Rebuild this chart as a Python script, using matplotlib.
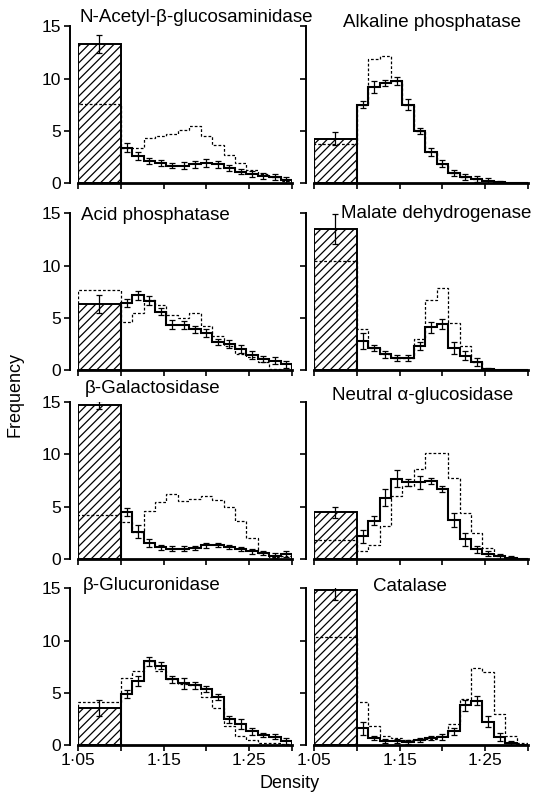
import numpy as np
import matplotlib
matplotlib.use("Agg")
import matplotlib.pyplot as plt

plt.rcParams["font.family"] = ["Liberation Sans", "DejaVu Sans"]
plt.rcParams["hatch.linewidth"] = 0.9

# --- Data ------------------------------------------------------------------
# 15 density fractions between 1.10 and 1.30, soluble fraction in 1.05-1.10
bin_edges = np.linspace(1.10, 1.30, 16)

titles = [
    "N-Acetyl-β-glucosaminidase", "Alkaline phosphatase",
    "Acid phosphatase", "Malate dehydrogenase",
    "β-Galactosidase", "Neutral α-glucosidase",
    "β-Glucuronidase", "Catalase",
]

# soluble (hatched) bar: value, error, control (dashed)
soluble = [13.3, 4.25, 6.3, 13.5, 14.7, 4.45, 3.55, 14.85]
soluble_err = [0.85, 0.65, 0.85, 1.4, 0.4, 0.55, 0.8, 0.95]
soluble_ctrl = [7.6, 3.7, 7.65, 10.4, 4.2, 1.75, 4.1, 10.3]

nag = [3.4, 2.6, 2.1, 1.9, 1.65, 1.65, 1.8, 1.9, 1.8, 1.45, 1.1, 0.9, 0.7, 0.55, 0.3]
nag_err = [0.4, 0.35, 0.3, 0.3, 0.25, 0.35, 0.35, 0.4, 0.35, 0.3, 0.2, 0.3, 0.3, 0.3, 0.3]
nag_ctrl = [3.4, 3.35, 4.3, 4.5, 4.7, 5.1, 5.5, 4.5, 3.6, 2.7, 1.9, 1.25, 0.85, 0.6, 0.2]

alp = [7.5, 9.2, 9.6, 9.75, 7.5, 5.0, 3.0, 1.85, 0.95, 0.57, 0.37, 0.22, 0.12, 0, 0]
alp_err = [0.35, 0.6, 0.3, 0.35, 0.5, 0.3, 0.4, 0.35, 0.3, 0.3, 0.3, 0.3, 0.1, 0, 0]
alp_ctrl = [7.5, 11.9, 12.2, 9.75, 7.5, 5.0, 3.0, 1.85, 0.95, 0.57, 0.37, 0.22, 0.12, 0, 0]

acp = [6.4, 7.15, 6.65, 5.6, 4.35, 4.3, 3.9, 3.55, 2.7, 2.5, 2.0, 1.45, 1.1, 0.9, 0.55]
acp_err = [0.4, 0.4, 0.45, 0.3, 0.4, 0.4, 0.35, 0.35, 0.3, 0.35, 0.4, 0.4, 0.3, 0.35, 0.3]
acp_ctrl = [4.65, 5.45, 6.75, 6.25, 5.3, 5.0, 5.45, 4.2, 3.3, 2.3, 1.5, 1.3, 0.8, 0.15, 0.0]

mdh = [2.8, 2.1, 1.5, 1.15, 1.15, 2.3, 4.1, 4.4, 2.1, 1.4, 0.75, 0.15, 0, 0, 0]
mdh_err = [0.8, 0.3, 0.3, 0.3, 0.3, 0.35, 0.5, 0.5, 0.6, 0.4, 0.4, 0.1, 0, 0, 0]
mdh_ctrl = [3.9, 2.1, 1.5, 1.15, 1.15, 3.0, 6.7, 7.9, 4.5, 2.3, 0.8, 0.15, 0, 0, 0]

gal = [4.5, 2.6, 1.5, 1.1, 0.95, 0.95, 1.05, 1.3, 1.3, 1.15, 0.95, 0.7, 0.55, 0.3, 0.45]
gal_err = [0.4, 0.6, 0.4, 0.25, 0.25, 0.25, 0.2, 0.25, 0.2, 0.2, 0.2, 0.2, 0.2, 0.25, 0.3]
gal_ctrl = [3.5, 2.6, 4.6, 5.4, 6.2, 5.5, 5.7, 6.0, 5.6, 5.0, 3.6, 1.95, 0.6, 0.2, 0.3]

nglu = [2.15, 3.65, 5.85, 7.65, 7.3, 7.3, 7.45, 6.7, 3.7, 1.85, 0.9, 0.5, 0.22, 0.12, 0]
nglu_err = [0.6, 0.4, 0.8, 0.8, 0.3, 0.6, 0.3, 0.3, 0.7, 0.6, 0.35, 0.2, 0.2, 0.1, 0]
nglu_ctrl = [0.75, 1.35, 3.1, 6.0, 7.0, 8.6, 10.1, 10.1, 7.7, 4.4, 2.5, 1.0, 0.3, 0.1, 0]

gus = [4.9, 6.15, 8.0, 7.6, 6.3, 5.9, 5.7, 5.35, 4.6, 2.45, 2.0, 1.3, 1.0, 0.8, 0.35]
gus_err = [0.4, 0.5, 0.4, 0.35, 0.35, 0.5, 0.3, 0.3, 0.3, 0.3, 0.45, 0.3, 0.2, 0.25, 0.3]
gus_ctrl = [6.4, 7.05, 8.0, 7.1, 6.3, 5.8, 5.7, 4.6, 3.55, 1.8, 0.9, 0.5, 0.15, 0.15, 0.1]

cat = [1.6, 0.7, 0.35, 0.35, 0.33, 0.45, 0.7, 0.8, 1.3, 3.8, 4.25, 2.25, 0.8, 0.2, 0]
cat_err = [0.6, 0.2, 0.2, 0.2, 0.2, 0.2, 0.2, 0.3, 0.3, 0.5, 0.4, 0.5, 0.4, 0.2, 0]
cat_ctrl = [4.1, 1.8, 0.9, 0.7, 0.5, 0.5, 0.6, 0.9, 2.0, 4.4, 7.4, 7.0, 3.0, 0.9, 0.2]

series = [
    (nag, nag_err, nag_ctrl), (alp, alp_err, alp_ctrl),
    (acp, acp_err, acp_ctrl), (mdh, mdh_err, mdh_ctrl),
    (gal, gal_err, gal_ctrl), (nglu, nglu_err, nglu_ctrl),
    (gus, gus_err, gus_ctrl), (cat, cat_err, cat_ctrl),
]

# title anchor (data x, data y) for each panel
title_pos = [
    (1.052, 15.85), (1.084, 15.4),
    (1.053, 14.8), (1.082, 15.0),
    (1.058, 16.3), (1.071, 15.6),
    (1.056, 15.3), (1.119, 15.2),
]

# --- Plot ------------------------------------------------------------------
fig = plt.figure(figsize=(5.35, 7.96), dpi=100)

row_bottoms = [0.770, 0.535, 0.298, 0.064]
col_lefts = [0.1458, 0.587]
ax_w, ax_h = 0.400, 0.197

dash_style = (0, (2.2, 1.6))

for i, (vals, errs, ctrl) in enumerate(series):
    r, c = divmod(i, 2)
    ax = fig.add_axes([col_lefts[c], row_bottoms[r], ax_w, ax_h])

    # soluble fraction, hatched bar
    ax.bar(1.075, soluble[i], width=0.05, facecolor="white", edgecolor="black",
           hatch="////", linewidth=1.4, zorder=2)
    ax.errorbar(1.075, soluble[i], yerr=soluble_err[i], fmt="none",
                ecolor="black", elinewidth=0.9, capsize=2.2, capthick=0.9, zorder=4)

    # control (dashed) including the soluble bin
    ctrl_edges = np.concatenate([[1.05], bin_edges])
    ax.stairs([soluble_ctrl[i]] + list(ctrl), ctrl_edges, baseline=0,
              color="black", linewidth=0.9, linestyle=dash_style, zorder=3)

    # treated (solid) step histogram with error bars
    ax.stairs(vals, bin_edges, baseline=0, color="black", linewidth=1.5, zorder=5)
    centres = 0.5 * (bin_edges[:-1] + bin_edges[1:])
    v = np.array(vals)
    e = np.array(errs)
    m = v > 0
    ax.errorbar(centres[m], v[m], yerr=e[m], fmt="none", ecolor="black",
                elinewidth=0.9, capsize=2.0, capthick=0.9, zorder=6)

    tx, ty = title_pos[i]
    ax.text(tx, ty, titles[i], ha="left", va="center", fontsize=13.5,
            clip_on=False)

    ax.set_xlim(1.05, 1.30)
    ax.set_ylim(0, 15)
    for s in ("top", "right"):
        ax.spines[s].set_visible(False)
    ax.spines["left"].set_position(("outward", 6))
    ax.spines["left"].set_bounds(0, 15)
    ax.spines["left"].set_linewidth(1.4)
    ax.spines["bottom"].set_linewidth(2.0)

    ax.set_yticks([0, 5, 10, 15])
    ax.set_xticks([1.05, 1.10, 1.15, 1.20, 1.25, 1.30])
    ax.tick_params(axis="both", direction="out", length=4, width=1.2,
                   labelsize=12.5, pad=2)
    if c == 1:
        ax.set_yticklabels([])
    if r == 3:
        ax.set_xticklabels(["1·05", "", "1·15", "", "1·25", ""])
    else:
        ax.set_xticklabels([])
    ax.patch.set_visible(False)

fig.text(0.028, 0.504, "Frequency", rotation=90, ha="center", va="center", fontsize=13)
fig.text(0.542, 0.016, "Density", ha="center", va="center", fontsize=13)

fig.savefig("out.png", dpi=100)
